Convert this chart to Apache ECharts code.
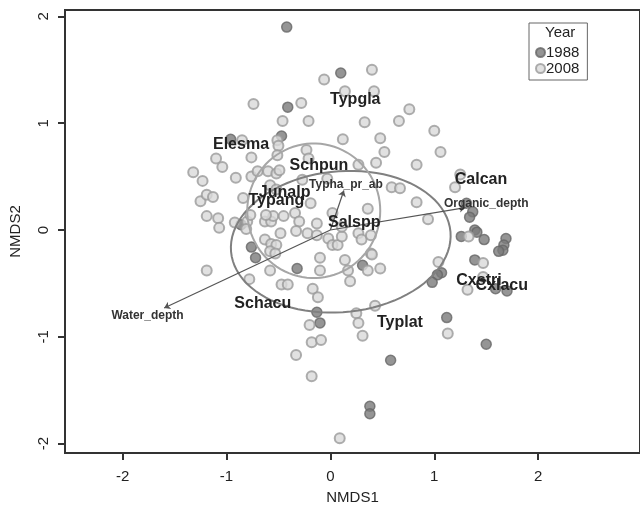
<!DOCTYPE html>
<html>
<head>
<meta charset="utf-8">
<script src="https://cdn.jsdelivr.net/npm/echarts@6/dist/echarts.min.js"></script>
<style>
  html, body { margin: 0; padding: 0; background: #fff; }
  #main { width: 640px; height: 511px; }
</style>
</head>
<body>
<div id="main"></div>
<script>
// site scores (NMDS1, NMDS2)
const sites1988 = [
  [-0.42, 1.90], [-0.41, 1.15], [-0.47, 0.88], [-0.96, 0.85], [0.10, 1.47],
  [-0.86, 0.05], [-0.76, -0.16], [-0.72, -0.26], [-0.32, -0.36], [0.31, -0.33],
  [-0.13, -0.77], [-0.10, -0.87], [1.31, 0.25], [1.37, 0.17], [1.34, 0.12],
  [1.26, -0.06], [1.39, 0.00], [1.41, -0.02], [1.48, -0.09], [1.69, -0.08],
  [1.67, -0.14], [1.66, -0.19], [1.62, -0.20], [1.39, -0.28], [1.07, -0.40],
  [1.03, -0.42], [0.98, -0.49], [1.59, -0.55], [1.70, -0.57], [1.12, -0.82],
  [1.50, -1.07], [0.58, -1.22], [0.38, -1.65], [0.38, -1.72]
];

const sites2008 = [
  [-0.06, 1.41], [0.40, 1.50], [-0.74, 1.18], [-0.28, 1.19], [-0.46, 1.02],
  [-0.21, 1.02], [0.14, 1.30], [0.42, 1.30], [0.76, 1.13], [0.33, 1.01],
  [0.66, 1.02], [1.00, 0.93], [0.12, 0.85], [0.48, 0.86], [0.52, 0.73],
  [1.06, 0.73], [0.44, 0.63], [0.83, 0.61], [0.27, 0.61], [0.59, 0.40],
  [0.67, 0.39], [1.25, 0.52], [1.20, 0.40],
  [-0.51, 0.84], [-0.50, 0.79], [-0.85, 0.84], [-0.76, 0.68], [-1.10, 0.67],
  [-1.04, 0.59], [-1.32, 0.54], [-1.23, 0.46], [-0.91, 0.49], [-0.76, 0.50],
  [-0.70, 0.55], [-0.60, 0.55], [-0.52, 0.53], [-0.49, 0.56], [-0.23, 0.75],
  [-0.21, 0.67], [-0.51, 0.70], [-0.03, 0.48], [-0.27, 0.47], [-0.58, 0.42],
  [-0.52, 0.38], [-0.19, 0.25],
  [-1.25, 0.27], [-1.19, 0.33], [-1.13, 0.31], [-0.84, 0.30], [-1.19, 0.13],
  [-1.08, 0.11], [-1.07, 0.02], [-0.92, 0.07], [-0.80, 0.08], [-0.77, 0.14],
  [-0.81, 0.01], [-0.63, 0.08], [-0.57, 0.08], [-0.55, 0.13], [-0.62, 0.14],
  [-0.45, 0.13], [-0.34, 0.16], [-0.30, 0.08], [-0.13, 0.06], [-0.48, -0.03],
  [-0.33, -0.01], [-0.22, -0.03], [-0.13, -0.05], [-0.63, -0.09], [-0.57, -0.13],
  [-0.52, -0.14], [-0.58, -0.20], [-0.53, -0.22], [-0.10, -0.26], [-1.19, -0.38],
  [-0.78, -0.46], [-0.58, -0.38], [-0.47, -0.51], [-0.41, -0.51], [-0.17, -0.55],
  [-0.12, -0.63], [-0.20, -0.89], [-0.02, -0.08], [0.02, -0.14], [0.07, -0.14],
  [0.02, 0.16], [-0.10, -0.38],
  [0.11, -0.06], [0.11, 0.03], [0.27, -0.03], [0.30, -0.09], [0.39, -0.05],
  [0.39, -0.22], [0.14, -0.28], [0.17, -0.38], [0.36, -0.38], [0.48, -0.36],
  [0.19, -0.48], [0.25, -0.78], [0.27, -0.87], [0.43, -0.71], [0.31, -0.99],
  [0.40, -0.23], [0.36, 0.20], [0.83, 0.26], [0.94, 0.10],
  [1.33, -0.06], [1.47, -0.31], [1.04, -0.30], [1.32, -0.56], [1.47, -0.44],
  [1.13, -0.97],
  [-0.18, -1.05], [-0.09, -1.03], [-0.33, -1.17], [-0.18, -1.37], [0.09, -1.95]
];

// species scores
const speciesNames = ['Typgla', 'Elesma', 'Schpun', 'Junalp', 'Typang', 'Calcan',
  'Salspp', 'Schacu', 'Typlat', 'Cxstri', 'Cxlacu'];
const speciesScores = [[0.24, 1.22], [-0.86, 0.80], [-0.11, 0.60], [-0.44, 0.35],
  [-0.52, 0.28], [1.45, 0.47], [0.23, 0.07], [-0.65, -0.69], [0.67, -0.87],
  [1.43, -0.47], [1.65, -0.52]];

// environmental vectors (arrow tips) and label spots
const envNames = ['Water_depth', 'Organic_depth', 'Typha_pr_ab'];
const envTips = [[-1.60, -0.73], [1.30, 0.21], [0.13, 0.37]];
const envLabels = [[-1.76, -0.80], [1.50, 0.25], [0.15, 0.42]];

// ellipses per year: centre x, centre y, radius x, radius y, angle (deg)
const ellipses = [[0.10, -0.11, 1.06, 0.66, 5], [-0.16, 0.18, 0.64, 0.63, 0]];
const ellipseColors = ['#808080', '#a6a6a6'];

const tickValues = [-2, -1, 0, 1, 2];

const FONT = 'Liberation Sans, Arial, Helvetica, sans-serif';

const chart = echarts.init(document.getElementById('main'));

const axisCommon = {
  type: 'value',
  nameLocation: 'middle',
  nameTextStyle: { fontFamily: FONT, fontSize: 15, color: '#222' },
  splitLine: { show: false },
  axisLine: { show: true, onZero: false, lineStyle: { color: '#333', width: 2 } },
  axisTick: { show: true, length: 7, lineStyle: { color: '#333', width: 2 }, customValues: tickValues },
  axisLabel: { fontFamily: FONT, fontSize: 15, color: '#222', customValues: tickValues }
};

// invisible anchor points that only carry a text label
const textSeries = (items, size, color, z) => ({
  type: 'scatter', z: z, silent: true, symbolSize: 1,
  itemStyle: { color: 'rgba(0,0,0,0)' },
  label: {
    show: true, position: 'inside', formatter: '{b}', opacity: 1,
    fontFamily: FONT, fontSize: size, fontWeight: 'bold', color: color
  },
  emphasis: { disabled: true },
  data: items
});

const option = {
  animation: false,
  backgroundColor: '#fff',
  grid: {
    left: 65, top: 10, right: -10, bottom: 58,
    show: true, borderColor: '#333', borderWidth: 2
  },
  xAxis: Object.assign({}, axisCommon, {
    name: 'NMDS1', nameGap: 37,
    min: -2.554, max: 2.98,
    axisLabel: Object.assign({}, axisCommon.axisLabel, { margin: 16 })
  }),
  yAxis: Object.assign({}, axisCommon, {
    name: 'NMDS2', nameGap: 42,
    min: -2.088, max: 2.06,
    axisLabel: Object.assign({}, axisCommon.axisLabel, { rotate: 90, margin: 14 })
  }),
  legend: {
    orient: 'vertical',
    left: 529, top: 23,
    padding: [22, 8, 4, 6],
    borderColor: '#666', borderWidth: 1,
    itemGap: 1, itemWidth: 9, itemHeight: 9,
    icon: 'circle',
    textStyle: { fontFamily: FONT, fontSize: 15, color: '#222', padding: [0, 0, 0, -4] },
    data: ['1988', '2008']
  },
  graphic: [{
    type: 'text', left: 545, top: 25,
    style: { text: 'Year', font: '15px ' + FONT, fill: '#222' }
  }],
  series: [
    {
      name: '1988', type: 'scatter', symbol: 'circle', symbolSize: 10,
      itemStyle: { color: '#7a7a7a', borderColor: '#666', borderWidth: 1.5 },
      data: sites1988, z: 2
    },
    {
      name: '2008', type: 'scatter', symbol: 'circle', symbolSize: 10,
      itemStyle: { color: '#dadada', borderColor: '#9a9a9a', borderWidth: 2 },
      data: sites2008, z: 2
    },
    {
      type: 'custom', z: 3, silent: true,
      data: ellipses,
      renderItem: function (params, api) {
        const cx = api.value(0), cy = api.value(1);
        const rx = api.value(2), ry = api.value(3);
        const a = api.value(4) * Math.PI / 180;
        const pts = [];
        for (let i = 0; i <= 90; i++) {
          const t = i / 90 * Math.PI * 2;
          const ex = rx * Math.cos(t), ey = ry * Math.sin(t);
          pts.push(api.coord([cx + ex * Math.cos(a) - ey * Math.sin(a),
            cy + ex * Math.sin(a) + ey * Math.cos(a)]));
        }
        return {
          type: 'polyline',
          shape: { points: pts },
          style: { fill: null, stroke: ellipseColors[params.dataIndex], lineWidth: 2 }
        };
      }
    },
    {
      type: 'lines', coordinateSystem: 'cartesian2d', z: 4, silent: true,
      symbol: ['none', 'arrow'], symbolSize: 6,
      lineStyle: { color: '#555', width: 1.2, opacity: 1 },
      data: envTips.map(p => ({ coords: [[0, 0], p] }))
    },
    textSeries(envNames.map((n, i) => ({ name: n, value: envLabels[i] })), 12, '#333', 5),
    textSeries(speciesNames.map((n, i) => ({ name: n, value: speciesScores[i] })), 16, '#222', 6)
  ]
};

chart.setOption(option);
</script>
</body>
</html>
